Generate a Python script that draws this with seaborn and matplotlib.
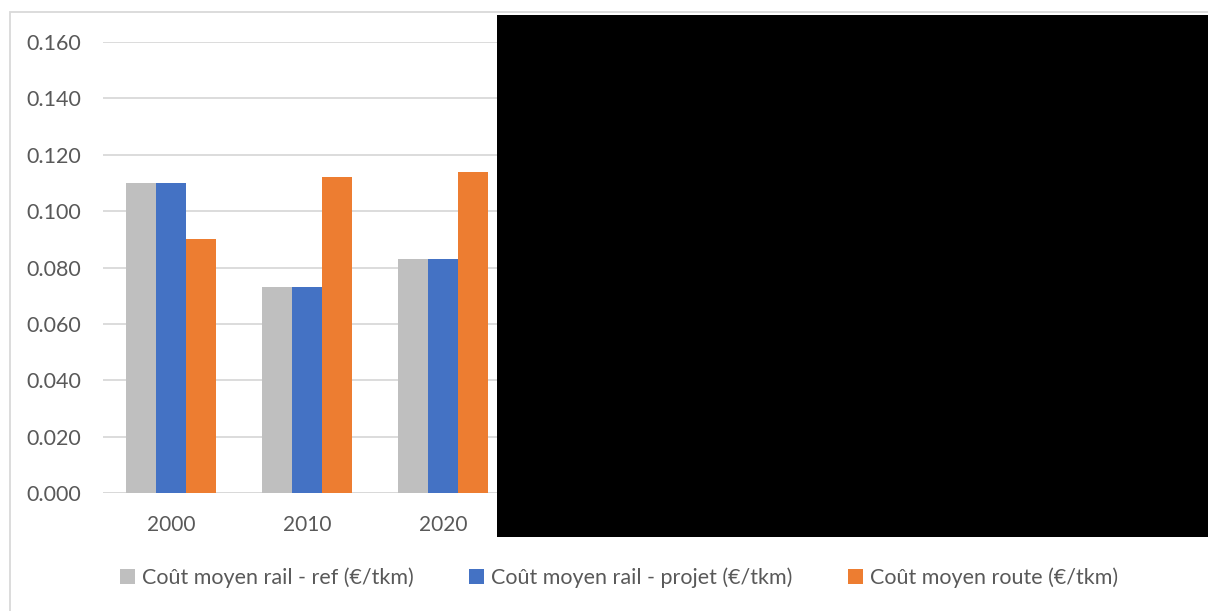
import matplotlib
matplotlib.use("Agg")
import matplotlib.pyplot as plt
from matplotlib.patches import Rectangle
import pandas as pd
import seaborn as sns

# Average freight cost per tonne-km by year
years = ["2000", "2010", "2020"]
series = [
    "Coût moyen rail - ref (€/tkm)",
    "Coût moyen rail - projet (€/tkm)",
    "Coût moyen route (€/tkm)",
]
rail_ref = [0.110, 0.073, 0.083]
rail_projet = [0.110, 0.073, 0.083]
route = [0.090, 0.112, 0.114]
colors = ["#bfbfbf", "#4472c4", "#ed7d31"]
y_ticks = [0.0, 0.02, 0.04, 0.06, 0.08, 0.10, 0.12, 0.14, 0.16]

df = pd.DataFrame({
    "year": years * 3,
    "series": [series[0]] * 3 + [series[1]] * 3 + [series[2]] * 3,
    "value": rail_ref + rail_projet + route,
})

sns.set_theme(style="white")
plt.rcParams["font.family"] = ["Lato", "DejaVu Sans"]

W, H = 1208, 611
fig = plt.figure(figsize=(W / 100, H / 100), dpi=100)
ax = fig.add_axes([103 / W, 1 - 493 / H, (1191 - 103) / W, (493 - 42) / H])

sns.barplot(data=df, x="year", y="value", hue="series", order=years,
            hue_order=series, palette=colors, width=0.66, gap=0,
            saturation=1, linewidth=0, ax=ax, legend=False, zorder=3)

ax.set_xlim(-0.5, 7.5)
ax.set_ylim(0, 0.16)
ax.set_yticks(y_ticks)
ax.set_yticklabels([f"{v:.3f}" for v in y_ticks])
ax.yaxis.grid(True, color="#d9d9d9", linewidth=1.3, zorder=0)
ax.set_axisbelow(True)
for s in ax.spines.values():
    s.set_visible(False)
ax.axhline(0, color="#d9d9d9", linewidth=1.3, zorder=2)
ax.set_xlabel("")
ax.set_ylabel("")
ax.tick_params(axis="both", length=0, labelsize=15, labelcolor="#595959")
ax.tick_params(axis="y", labelsize=15.5, pad=16)
ax.tick_params(axis="x", pad=16)

# Legend below the plot
handles = [Rectangle((0, 0), 1, 1, facecolor=c, edgecolor="none") for c in colors]
fig.legend(handles, series, loc="center", bbox_to_anchor=(619 / W, 1 - 578 / H),
           ncol=3, frameon=False, handlelength=0.7, handleheight=0.7,
           handletextpad=0.3, columnspacing=2.6,
           prop={"size": 15.5}, labelcolor="#595959")

# Chart frame
fig.patches.append(Rectangle((9.5 / W, -0.1), 1.2, 1 - 11.5 / H + 0.1,
                             transform=fig.transFigure, fill=False,
                             edgecolor="#d9d9d9", linewidth=1.3, zorder=1))
# Blacked-out region
fig.patches.append(Rectangle((497 / W, 1 - 537 / H), (W - 497) / W, (537 - 15) / H,
                             transform=fig.transFigure, facecolor="black",
                             edgecolor="none", zorder=10))

fig.savefig("out.png", dpi=100)
